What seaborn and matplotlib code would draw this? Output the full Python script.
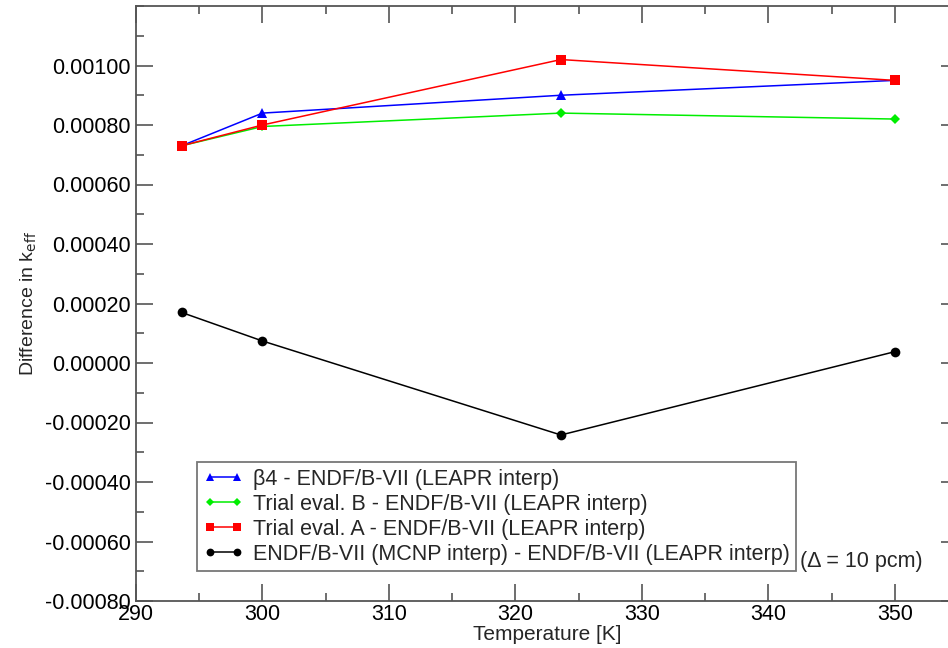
import numpy as np
import pandas as pd
import matplotlib
matplotlib.use("Agg")
import matplotlib.pyplot as plt
from matplotlib.ticker import MultipleLocator, FixedLocator, FormatStrFormatter
from matplotlib.lines import Line2D
import seaborn as sns

# Temperatures [K] and k_eff differences for each comparison
temperature = [293.6, 300.0, 323.6, 350.0]
beta4_diff = [0.00073, 0.00084, 0.00090, 0.00095]
trial_b_diff = [0.00073, 0.000795, 0.00084, 0.00082]
trial_a_diff = [0.00073, 0.00080, 0.00102, 0.00095]
mcnp_interp_diff = [0.00017, 0.000074, -0.000242, 0.000038]

series_labels = [
    "\u03b24 - ENDF/B-VII (LEAPR interp)",
    "Trial eval. B - ENDF/B-VII (LEAPR interp)",
    "Trial eval. A - ENDF/B-VII (LEAPR interp)",
    "ENDF/B-VII (MCNP interp) - ENDF/B-VII (LEAPR interp)",
]
series_values = [beta4_diff, trial_b_diff, trial_a_diff, mcnp_interp_diff]
series_colors = ["#0000ff", "#00ee00", "#ff0000", "#000000"]
series_markers = ["^", "D", "s", "o"]
marker_sizes = [7, 5, 7, 7]

y_major_ticks = [-0.0008, -0.0006, -0.0004, -0.0002, 0.0, 0.0002, 0.0004,
                 0.0006, 0.0008, 0.0010]

sns.set_theme(style="ticks")
plt.rcParams["font.family"] = ["Liberation Sans", "DejaVu Sans"]
plt.rcParams["axes.unicode_minus"] = False

frames = []
for lab, vals in zip(series_labels, series_values):
    frames.append(pd.DataFrame({"T": temperature, "diff": vals, "series": lab}))
df = pd.concat(frames, ignore_index=True)

fig = plt.figure(figsize=(9.48, 6.48), dpi=100)
# the plot box runs slightly past the right edge of the canvas
ax = fig.add_axes([136 / 948, 1 - 601 / 648, (958 - 136) / 948, (601 - 6) / 648])

handles = []
for lab, col, mk, ms in zip(series_labels, series_colors, series_markers, marker_sizes):
    sub = df[df["series"] == lab]
    sns.lineplot(data=sub, x="T", y="diff", ax=ax, color=col, marker=mk,
                 markersize=ms, markeredgewidth=0, linewidth=1.1,
                 alpha=1, legend=False)
    handles.append(Line2D([0], [0], color=col, marker=mk, markersize=ms * 0.8,
                          markeredgewidth=0, linewidth=1.1))

ax.set_xlim(290, 355)
ax.set_ylim(-0.0008, 0.0012)
ax.xaxis.set_major_locator(FixedLocator([290, 300, 310, 320, 330, 340, 350]))
ax.xaxis.set_minor_locator(MultipleLocator(5))
ax.yaxis.set_major_locator(FixedLocator(y_major_ticks))
ax.yaxis.set_minor_locator(MultipleLocator(0.0001))
ax.yaxis.set_major_formatter(FormatStrFormatter("%.5f"))
ax.xaxis.set_major_formatter(FormatStrFormatter("%d"))

spine_col = "#555555"
for s in ax.spines.values():
    s.set_color(spine_col)
    s.set_linewidth(1.3)
ax.tick_params(which="both", direction="in", top=True, right=True,
               color=spine_col, width=1.2, labelsize=15.5, labelcolor="black")
ax.tick_params(which="major", length=12, pad=4)
ax.tick_params(axis="x", which="major", pad=2)
ax.tick_params(which="minor", length=6)

ax.set_xlabel("Temperature [K]", fontsize=15, labelpad=0)
ax.set_ylabel("Difference in k$_{\\rm eff}$", fontsize=14, labelpad=4)

leg = ax.legend(handles, series_labels, loc="lower left",
                bbox_to_anchor=((197 - 136) / 822, (601 - 571) / 595),
                numpoints=2, handlelength=1.85, handletextpad=0.45,
                fontsize=15.5, frameon=True, fancybox=False, borderpad=0.3,
                labelspacing=0.18, borderaxespad=0)
leg.get_frame().set_edgecolor(spine_col)
leg.get_frame().set_linewidth(1.3)

ax.text(800, 648 - 562, "(\u0394 = 10 pcm)", transform=None, fontsize=15.5,
        va="center", ha="left")

fig.savefig("out.png", dpi=100)
